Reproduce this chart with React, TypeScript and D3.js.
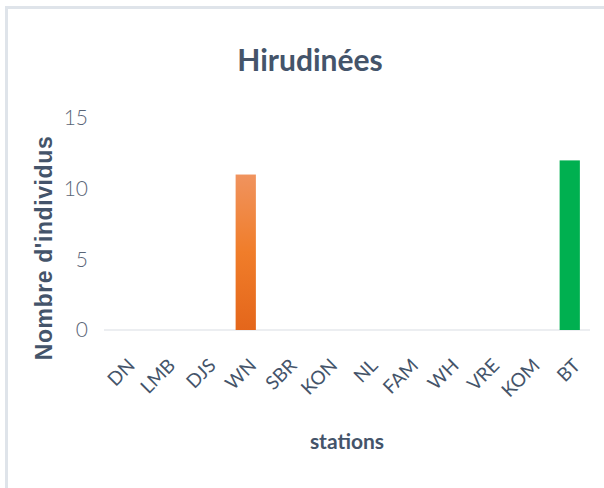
import React from "react";
import * as d3 from "d3";

const stations = ["DN", "LMB", "DJS", "WN", "SBR", "KON", "NL", "FAM", "WH", "VRE", "KOM", "BT"];
const counts = [0, 0, 0, 11, 0, 0, 0, 0, 0, 0, 0, 12];
const yTicks = [0, 5, 10, 15];

const W = 604;
const H = 488;
const plot = { left: 104, right: 590, top: 118, bottom: 330 };
const textColor = "#44546a";

export default function App() {
  const x = d3.scaleBand<string>().domain(stations).range([plot.left, plot.right]).paddingInner(0.5).paddingOuter(0.25);
  const y = d3.scaleLinear().domain([0, 15]).range([plot.bottom, plot.top]);

  return (
    <svg width={W} height={H} style={{ position: "absolute", left: 0, top: 0, background: "#fff" }}>
      <defs>
        <linearGradient id="orangeGrad" x1="0" y1="0" x2="0" y2="1">
          <stop offset="0%" stopColor="#f0935e" />
          <stop offset="50%" stopColor="#f07d2a" />
          <stop offset="100%" stopColor="#e4661b" />
        </linearGradient>
      </defs>
      {/* chart frame */}
      <line x1={5} x2={W} y1={7.5} y2={7.5} stroke="#dfe4ea" strokeWidth={3} />
      <line x1={6.5} x2={6.5} y1={7} y2={H} stroke="#dfe4ea" strokeWidth={3} />

      <text x={310} y={71} textAnchor="middle" fontFamily="Lato" fontWeight={700} fontSize={30} fill={textColor}>
        Hirudinées
      </text>

      {yTicks.map((t) => (
        <text key={t} x={88} y={y(t)} dy="0.35em" textAnchor="end" fontFamily="Lato" fontWeight={300} fontSize={21} fill="#5a6577">
          {t}
        </text>
      ))}

      <line x1={plot.left} x2={plot.right} y1={y(0)} y2={y(0)} stroke="#e6e8ec" strokeWidth={1.5} />

      {stations.map((s, i) =>
        counts[i] > 0 ? (
          <rect
            key={s}
            x={x(s)}
            y={y(counts[i])}
            width={x.bandwidth()}
            height={y(0) - y(counts[i])}
            fill={s === "BT" ? "#00b050" : "url(#orangeGrad)"}
          />
        ) : null
      )}

      {stations.map((s) => {
        const cx = (x(s) ?? 0) + x.bandwidth() / 2 + 7;
        return (
          <text key={s} transform={`translate(${cx},${362}) rotate(-45)`} textAnchor="end" dy="0.35em" fontFamily="Lato" fontSize={19} fill={textColor}>
            {s}
          </text>
        );
      })}

      <text x={347} y={449} textAnchor="middle" fontFamily="Lato" fontWeight={700} fontSize={21} fill={textColor}>
        stations
      </text>

      <text transform={`translate(52,248) rotate(-90)`} textAnchor="middle" fontFamily="Liberation Sans" fontWeight={700} fontSize={23} letterSpacing={0.6} fill={textColor}>
        Nombre d'individus
      </text>
    </svg>
  );
}
